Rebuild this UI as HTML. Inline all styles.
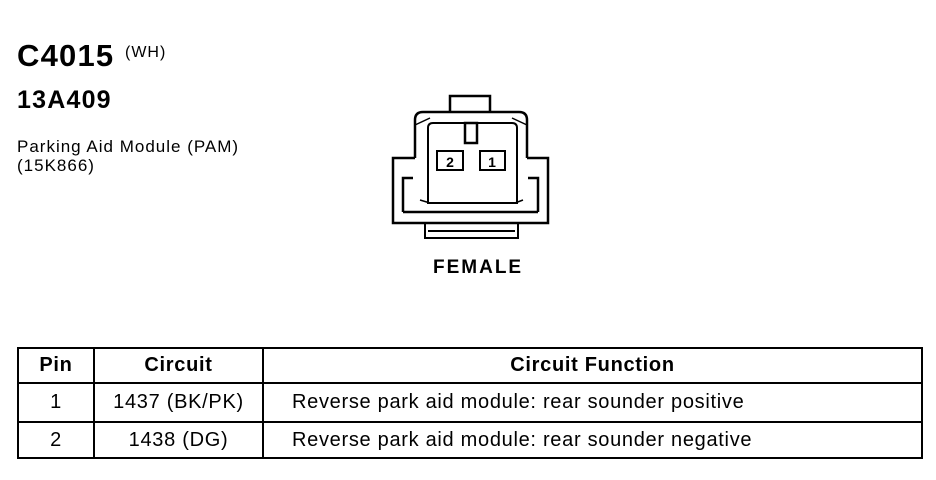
<!DOCTYPE html>
<html><head><style>
body{margin:0;background:#fff;width:936px;height:480px;position:relative;overflow:hidden;font-family:"Liberation Sans",sans-serif;color:#000}
.t{position:absolute;white-space:nowrap}
table{position:absolute;left:17px;top:347px;border-collapse:collapse;width:906px}
td{border:2px solid #000;font-size:20px;letter-spacing:0.7px;text-align:center;padding:0}
</style></head><body>
<div class="t" style="left:17px;top:38px;font-size:31px;font-weight:bold;letter-spacing:1.2px">C4015</div>
<div class="t" style="left:125px;top:44px;font-size:16px;letter-spacing:1px">(WH)</div>
<div class="t" style="left:17px;top:86px;font-size:25px;font-weight:bold;letter-spacing:1.2px">13A409</div>
<div class="t" style="left:17px;top:137px;font-size:17px;line-height:19px;letter-spacing:1px">Parking Aid Module (PAM)<br>(15K866)</div>
<svg style="position:absolute;left:0;top:0" width="936" height="480">
<g fill="none" stroke="#000" stroke-width="2.5">
<path d="M450,112 V96 H490 V112"/>
<path d="M415,158 V120 Q415,112 423,112 H519 Q527,112 527,120 V158"/>
<path d="M415,158 H393 V223 H548 V158 H527"/>
<path d="M403,212 V178 H413 M538,212 V178 H528 M403,212 H538"/>
<path d="M428,203 V128 Q428,123 433,123 H512 Q517,123 517,128 V203 Z" stroke-width="2"/>
<path d="M415,125 L430,118 M527,125 L512,118 M420,200 L430,203 M523,200 L515,203" stroke-width="1.5"/>
<rect x="465" y="123" width="12" height="20"/>
<rect x="437" y="151" width="26" height="19" stroke-width="2"/>
<rect x="480" y="151" width="25" height="19" stroke-width="2"/>
<path d="M425,223 V238 H518 V223 M428,231 H515" stroke-width="2"/>
</g>
<text x="450" y="167" font-size="14" font-weight="bold" text-anchor="middle" font-family="Liberation Sans">2</text>
<text x="492" y="167" font-size="14" font-weight="bold" text-anchor="middle" font-family="Liberation Sans">1</text>
</svg>
<div class="t" style="left:433px;top:257px;font-size:19px;font-weight:bold;letter-spacing:2px">FEMALE</div>
<table>
<tr style="height:35px;font-weight:bold"><td style="width:74px;font-weight:bold">Pin</td><td style="width:167px;font-weight:bold">Circuit</td><td style="font-weight:bold">Circuit Function</td></tr>
<tr style="height:39px"><td>1</td><td>1437 (BK/PK)</td><td style="text-align:left;padding-left:28px">Reverse park aid module: rear sounder positive</td></tr>
<tr style="height:36px"><td>2</td><td>1438 (DG)</td><td style="text-align:left;padding-left:28px">Reverse park aid module: rear sounder negative</td></tr>
</table>
</body></html>
